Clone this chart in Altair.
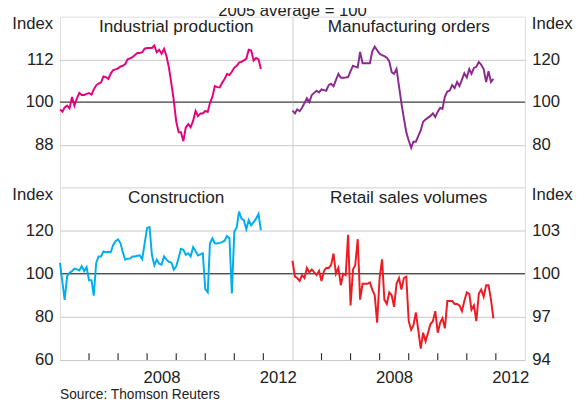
import altair as alt
import pandas as pd

# ---------------- data (monthly, Jan 2005 - Dec 2011) ----------------
start_month = "2005-01-01"
n_months = 84

industrial_production = [
    97.9, 97.3, 98.5, 99.0, 98.2, 101.4, 99.0, 101.0, 102.6, 102.0,
    102.0, 102.3, 102.5, 102.1, 103.5, 104.7, 105.2, 105.5, 107.2, 107.0,
    106.5, 108.0, 109.0, 109.2, 109.5, 110.0, 110.2, 110.7, 112.0, 112.3,
    112.6, 113.2, 113.8, 113.8, 114.0, 115.0, 115.2, 115.2, 115.2, 115.9,
    114.0, 114.7, 113.6, 115.0, 112.9, 109.7, 105.2, 100.5, 94.5, 91.5,
    91.5, 89.0, 92.9, 93.8, 92.9, 94.7, 97.5, 96.0, 96.8, 96.8,
    97.5, 97.2, 99.7, 101.5, 104.5, 104.2, 104.1, 105.4, 106.5, 107.9,
    107.6, 108.5, 109.7, 110.2, 111.1, 111.3, 111.7, 112.2, 114.7, 114.5,
    111.7, 112.4, 112.0, 109.3,
]

manufacturing_orders = [
    96.0, 94.7, 96.5, 95.7, 97.3, 99.5, 101.8, 100.0, 103.3, 104.3,
    105.3, 104.5, 105.9, 105.6, 105.3, 107.9, 108.6, 107.4, 110.3, 113.2,
    111.4, 111.4, 111.5, 111.7, 114.5, 117.0, 116.6, 116.2, 123.5, 118.2,
    118.2, 118.2, 118.2, 123.8, 126.0, 124.3, 122.6, 122.0, 121.5, 120.8,
    119.2, 114.0, 113.2, 115.5, 107.5, 99.5, 92.5, 85.9, 82.0, 78.6,
    81.4, 81.4, 84.0, 86.7, 90.8, 91.8, 92.7, 93.5, 94.7, 93.0,
    95.5, 97.3, 96.8, 102.6, 104.9, 105.4, 107.9, 106.5, 109.4, 107.5,
    110.5, 113.5, 111.5, 115.5, 113.2, 116.0, 116.5, 118.8, 117.5, 115.5,
    109.4, 114.4, 109.4, 110.9,
]

construction = [
    105.0, 95.9, 87.9, 98.9, 100.5, 101.2, 102.4, 102.0, 101.5, 103.5,
    101.2, 103.0, 97.0, 97.0, 89.8, 105.0, 108.0, 108.0, 110.3, 110.0,
    110.2, 110.0, 113.3, 115.1, 115.9, 114.1, 110.0, 106.5, 107.0, 107.0,
    108.0, 108.0, 108.3, 108.5, 106.8, 114.1, 121.2, 121.6, 108.8, 103.9,
    106.5, 104.6, 104.2, 108.0, 106.5, 105.5, 105.2, 101.9, 103.4, 107.5,
    111.5, 111.1, 108.8, 109.5, 108.0, 112.3, 110.5, 108.5, 109.0, 109.5,
    92.9, 91.4, 114.1, 116.4, 114.1, 114.0, 114.3, 114.6, 115.3, 117.4,
    116.4, 90.9, 119.4, 121.6, 128.8, 125.5, 124.8, 120.6, 124.8, 122.4,
    123.9, 125.5, 127.7, 120.1,
]

retail_sales = [
    100.9, 99.8, 99.7, 99.5, 99.9, 99.7, 100.4, 100.1, 100.3, 100.1,
    99.9, 100.2, 99.5, 100.2, 100.4, 100.4, 100.6, 101.4, 100.0, 100.4,
    99.2, 100.0, 99.9, 102.7, 97.8, 100.3, 100.6, 102.4, 98.2, 99.3,
    99.3, 99.3, 99.4, 98.9, 98.5, 96.6, 99.7, 101.0, 98.2, 97.9,
    98.7, 98.5, 97.7, 99.3, 99.7, 98.9, 99.7, 99.8, 96.7, 96.1,
    96.4, 97.3, 96.1, 94.8, 95.9, 95.3, 95.9, 96.5, 96.7, 97.4,
    95.9, 96.6, 96.9, 96.2, 98.1, 98.1, 98.1, 97.9, 97.9, 97.8,
    97.4, 98.1, 98.7, 98.6, 97.5, 97.8, 96.7, 98.6, 98.9, 98.4,
    99.2, 99.2, 98.2, 96.9,
]

panel_titles = ["Industrial production", "Manufacturing orders",
                "Construction", "Retail sales volumes"]
panel_colors = ["#e5007e", "#8b2a8e", "#00aeef", "#ed1c24"]
y_domains = [[76, 124], [60, 140], [60, 140], [94, 106]]
y_ticks = [[88, 100, 112], [80, 100, 120], [60, 80, 100, 120], [94, 97, 100, 103]]
tick_years = [2006, 2007, 2008, 2009, 2010, 2011, 2012]
label_years = [2008, 2012]
top_note = "2005 average = 100"
source_note = "Source: Thomson Reuters"

# ---------------- layout constants ----------------
W = 237
H_TOP = 174
H_BOT = 176
FONT = "Liberation Sans"
TXT = "#222222"

dates = pd.date_range(start_month, periods=n_months, freq="MS")
xscale = alt.Scale(domain=[alt.DateTime(year=2005, month=1, date=1),
                           alt.DateTime(year=2013, month=1, date=1)])


def panel(values, color, title, domain, tvals, side, bottom, h, extra=None):
    df = pd.DataFrame({"date": dates, "value": values})
    yscale = alt.Scale(domain=domain, nice=False, zero=False)
    yaxis = alt.Axis(orient=side, values=tvals, grid=True, gridColor="#c8c8c8",
                     gridWidth=1, ticks=False, domain=False, labelFontSize=17,
                     labelPadding=7, labelColor=TXT, labelFont=FONT, title=None)
    yenc = alt.Y("value:Q", scale=yscale, axis=yaxis)
    if bottom:
        xaxis = alt.Axis(values=[alt.DateTime(year=y, month=7, date=1) for y in label_years],
                         format="%Y", ticks=False, domain=False, grid=False,
                         labelFontSize=17, labelPadding=10, labelColor=TXT,
                         labelFont=FONT, title=None)
    else:
        xaxis = None
    xenc = alt.X("date:T", scale=xscale, axis=xaxis)

    layers = []
    hundred = alt.Chart(pd.DataFrame({"value": [100]})).mark_rule(
        color="#222222", strokeWidth=1).encode(y=yenc)
    layers.append(hundred)
    if bottom:
        tdf = pd.DataFrame({"date": pd.to_datetime([f"{y}-01-01" for y in tick_years])})
        ticks = alt.Chart(tdf).mark_rule(color="#333333", strokeWidth=1.2).encode(
            x=xenc, y=alt.value(h - 7), y2=alt.value(h))
        layers.append(ticks)
    line = alt.Chart(df).mark_line(color=color, strokeWidth=2).encode(x=xenc, y=yenc)
    layers.append(line)

    tt = alt.Chart(pd.DataFrame({"t": [title]})).mark_text(
        fontSize=17.5, font=FONT, color=TXT, align="center", baseline="alphabetic"
    ).encode(x=alt.value(W / 2), y=alt.value(16), text="t:N")
    layers.append(tt)

    if side == "left":
        ix = alt.Chart(pd.DataFrame({"t": ["Index"]})).mark_text(
            fontSize=17, font=FONT, color=TXT, align="right", baseline="alphabetic"
        ).encode(x=alt.value(-7), y=alt.value(12.5), text="t:N")
    else:
        ix = alt.Chart(pd.DataFrame({"t": ["Index"]})).mark_text(
            fontSize=17, font=FONT, color=TXT, align="left", baseline="alphabetic"
        ).encode(x=alt.value(W + 7), y=alt.value(12.5), text="t:N")
    layers.append(ix)
    if extra is not None:
        layers.extend(extra)
    return alt.layer(*layers).properties(width=W, height=h)


note_layer = alt.Chart(pd.DataFrame({"t": [top_note]})).mark_text(
    fontSize=17, font=FONT, color=TXT, align="center", baseline="alphabetic"
).encode(x=alt.value(W), y=alt.value(-1), text="t:N")

source_layer = alt.Chart(pd.DataFrame({"t": [source_note]})).mark_text(
    fontSize=14, font=FONT, color=TXT, align="left", baseline="alphabetic"
).encode(x=alt.value(0), y=alt.value(H_BOT + 40), text="t:N")

tl = panel(industrial_production, panel_colors[0], panel_titles[0], y_domains[0],
           y_ticks[0], "left", False, H_TOP, extra=[note_layer])
tr = panel(manufacturing_orders, panel_colors[1], panel_titles[1], y_domains[1],
           y_ticks[1], "right", False, H_TOP)
bl = panel(construction, panel_colors[2], panel_titles[2], y_domains[2],
           y_ticks[2], "left", True, H_BOT, extra=[source_layer])
br = panel(retail_sales, panel_colors[3], panel_titles[3], y_domains[3],
           y_ticks[3], "right", True, H_BOT)

chart = alt.concat(tl, tr, bl, br, columns=2, spacing=0, bounds="flush").properties(
    padding={"left": 3, "top": -11, "right": 0, "bottom": 0}
).configure_view(stroke="#333333", strokeWidth=1.3).configure(font=FONT)

chart.save("out.html", embed_options={"renderer": "svg", "actions": False})
